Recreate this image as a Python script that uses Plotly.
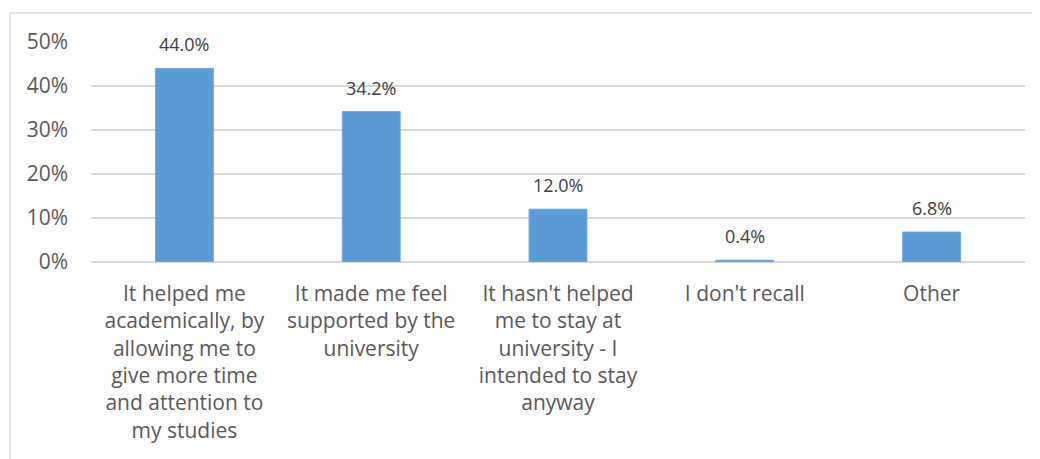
import plotly.graph_objects as go

categories = [
    "It helped me<br>academically, by<br>allowing me to<br>give more time<br>and attention to<br>my studies",
    "It made me feel<br>supported by the<br>university",
    "It hasn't helped<br>me to stay at<br>university - I<br>intended to stay<br>anyway",
    "I don't recall",
    "Other",
]
values = [0.440, 0.342, 0.120, 0.004, 0.068]
value_labels = ["44.0%", "34.2%", "12.0%", "0.4%", "6.8%"]
y_ticks = [0, 0.1, 0.2, 0.3, 0.4, 0.5]
y_tick_labels = ["0%", "10%", "20%", "30%", "40%", "50%"]

W, H = 1040, 459
OFF = 8  # page body margin
L, T = 91 - OFF, 42 - OFF
pw, ph = 934, 220
R, B = W - L - pw, H - T - ph

def px_x(x):
    return (x - OFF - L) / pw

def px_y(y):
    return 1 - (y - OFF - T) / ph

font_family = "Open Sans, Segoe UI, Calibri, sans-serif"
grey = "#595959"

fig = go.Figure()
fig.add_trace(go.Bar(
    x=list(range(len(categories))),
    y=values,
    marker=dict(color="#5B9BD5", line=dict(color="#6FA8DC", width=1)),
    width=0.31,
    hoverinfo="skip",
))

for i, (v, lab) in enumerate(zip(values, value_labels)):
    fig.add_annotation(
        x=i, y=v, text=lab, showarrow=False,
        yanchor="bottom", yshift=10,
        font=dict(family=font_family, size=18, color="#404040"),
    )

fig.update_layout(
    width=W, height=H,
    margin=dict(l=L, r=R, t=T, b=B),
    paper_bgcolor="white", plot_bgcolor="white",
    showlegend=False,
    font=dict(family=font_family, color=grey),
    xaxis=dict(
        tickmode="array",
        tickvals=list(range(len(categories))),
        ticktext=categories,
        range=[-0.5, len(categories) - 0.5],
        showgrid=False, zeroline=False, showline=False,
        ticks="", tickangle=0,
        tickfont=dict(family=font_family, size=21, color=grey),
        ticklabelstandoff=17,
    ),
    yaxis=dict(
        tickmode="array",
        tickvals=y_ticks,
        ticktext=y_tick_labels,
        range=[0, 0.5],
        showgrid=True, gridcolor="#d9d9d9", gridwidth=1.5,
        zeroline=True, zerolinecolor="#d9d9d9", zerolinewidth=1.5,
        showline=False, ticks="",
        tickfont=dict(family=font_family, size=21, color=grey),
        ticklabelstandoff=22,
    ),
    shapes=[
        dict(type="line", xref="paper", yref="paper",
             x0=px_x(10), x1=px_x(1060), y0=px_y(13), y1=px_y(13),
             line=dict(color="#d9d9d9", width=1.5)),
        dict(type="line", xref="paper", yref="paper",
             x0=px_x(10), x1=px_x(10), y0=px_y(13), y1=px_y(480),
             line=dict(color="#d9d9d9", width=1.5)),
    ],
)

fig.write_html("out.html")
